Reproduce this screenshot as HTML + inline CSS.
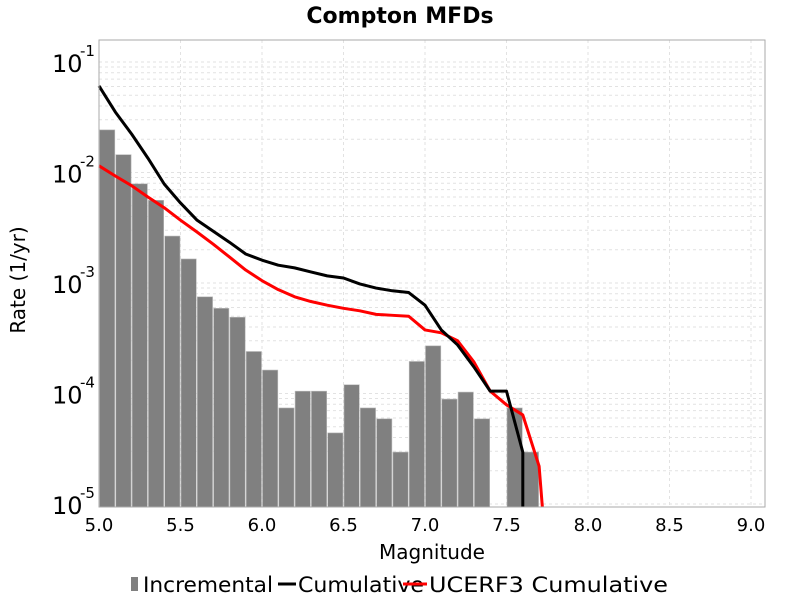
<!DOCTYPE html>
<html><head><meta charset="utf-8"><style>
body{margin:0;background:#fff;font-family:"Liberation Sans","DejaVu Sans",sans-serif}
</style></head><body>
<svg id="chart" width="800" height="600" xmlns="http://www.w3.org/2000/svg" font-family="DejaVu Sans, Liberation Sans, sans-serif">
<text x="400" y="23" text-anchor="middle" font-weight="bold" font-size="22">Compton MFDs</text>
<g id="grid"></g>
<g id="bars"></g>
<g id="lines"></g>
<rect x="99" y="40" width="666" height="467" fill="none" stroke="#aaa"/>
<g id="axes"></g>
<text x="432" y="559" text-anchor="middle" font-size="20">Magnitude</text>
<text transform="translate(25,280) rotate(-90)" text-anchor="middle" font-size="20">Rate (1/yr)</text>
<g font-size="21">
<g><rect x="131" y="577" width="7" height="14" fill="#808080"/><text x="143" y="592" textLength="130" lengthAdjust="spacingAndGlyphs">Incremental</text></g>
<g><line x1="278" y1="584" x2="296" y2="584" stroke="#000" stroke-width="3"/><text x="298" y="592" textLength="126" lengthAdjust="spacingAndGlyphs">Cumulative</text></g>
<g><line x1="403" y1="584" x2="427" y2="584" stroke="#f00" stroke-width="3"/><text x="429" y="592" textLength="239" lengthAdjust="spacingAndGlyphs">UCERF3 Cumulative</text></g>
</g>
</svg>
<script>
const barMags=[5.0,5.1,5.2,5.3,5.4,5.5,5.6,5.7,5.8,5.9,6.0,6.1,6.2,6.3,6.4,6.5,6.6,6.7,6.8,6.9,7.0,7.1,7.2,7.3,7.4,7.5,7.6];
const incremental=[0.0243,0.0145,0.0079,0.0056,0.00266,0.00165,0.00075,0.00059,0.00049,0.00024,0.000163,7.4e-5,1.05e-4,1.05e-4,4.4e-5,1.2e-4,7.4e-5,5.9e-5,2.95e-5,1.95e-4,2.7e-4,8.9e-5,1.03e-4,5.9e-5,0,7.4e-5,2.95e-5];
const cumMags=[5.0,5.1,5.2,5.3,5.4,5.5,5.6,5.7,5.8,5.9,6.0,6.1,6.2,6.3,6.4,6.5,6.6,6.7,6.8,6.9,7.0,7.1,7.2,7.3,7.4,7.5,7.6,7.6];
const cumulative=[0.0607,0.0353,0.0223,0.0135,0.00787,0.0053,0.00372,0.00295,0.00234,0.00183,0.00161,0.00145,0.00137,0.00126,0.00116,0.00111,0.00098,0.0009,0.00085,0.00082,0.00063,0.000376,0.000275,0.000174,0.000105,0.000105,2.95e-5,1e-8];
const ucMags=[5.0,5.1,5.2,5.3,5.4,5.5,5.6,5.7,5.8,5.9,6.0,6.1,6.2,6.3,6.4,6.5,6.6,6.7,6.8,6.9,7.0,7.1,7.2,7.3,7.4,7.5,7.6,7.7,7.72];
const ucerf3=[0.0115,0.0093,0.0076,0.006,0.0048,0.0037,0.0029,0.00225,0.00172,0.00131,0.00105,0.00087,0.00075,0.00068,0.00063,0.00059,0.00056,0.00052,0.00051,0.0005,0.000376,0.000354,0.0003,0.000193,0.000105,7.9e-5,6.4e-5,2.2e-5,1e-8];
const xTicks=["5.0","5.5","6.0","6.5","7.0","7.5","8.0","8.5","9.0"];
const yExps=[-1,-2,-3,-4,-5];
const NS="http://www.w3.org/2000/svg";
const L=99,R=765,T=40,B=507;
const X=m=>L+(m-5)*163;
const Y=v=>{const lg=Math.log10(Math.max(v,1e-9));return Math.min(B,Math.max(T,62+(-1-lg)*110.5));};
function mk(tag,attrs,parent){const e=document.createElementNS(NS,tag);for(const k in attrs)e.setAttribute(k,attrs[k]);parent.appendChild(e);return e;}
const grid=document.getElementById('grid'),axes=document.getElementById('axes');
for(let d=-6;d<=0;d++){for(let k=1;k<=9;k++){const v=k*Math.pow(10,d);const y=62+(-1-Math.log10(v))*110.5;if(y<T||y>B)continue;
const g=mk('line',{x1:L,x2:R,y1:y,y2:y,stroke:'#e2e2e2','stroke-dasharray':'3,3'},grid);

}}
xTicks.forEach(t=>{const x=X(parseFloat(t));
const g=mk('line',{x1:x,x2:x,y1:T,y2:B,stroke:'#e2e2e2','stroke-dasharray':'3,3'},grid);


const tx=mk('text',{x:x,y:531,'text-anchor':'middle','font-size':'18'},axes);tx.textContent=t;

});
yExps.forEach(e=>{const y=Y(Math.pow(10,e));
const tx=mk('text',{x:52,y:y+10,'font-size':'24'},axes);tx.textContent='10';


const s=mk('text',{x:80,y:y-6,'font-size':'15'},axes);s.textContent=String(e);

});
const bars=document.getElementById('bars');
barMags.forEach((m,i)=>{if(!incremental[i])return;const y=Y(incremental[i]);
const r=mk('rect',{x:X(m)+0.5,y:y,width:15.3,height:B-y,fill:'#808080',stroke:'#bbb','stroke-width':'0.6'},bars);

});
const lines=document.getElementById('lines');
function line(ms,vs,col,name){const p=mk('polyline',{points:ms.map((m,i)=>X(m)+','+Y(vs[i])).join(' '),fill:'none',stroke:col,'stroke-width':'3','stroke-linejoin':'round'},lines);

}
line(ucMags,ucerf3,'#f00','ucerf3-cumulative-line');
line(cumMags,cumulative,'#000','cumulative-line');
</script>
</body></html>
